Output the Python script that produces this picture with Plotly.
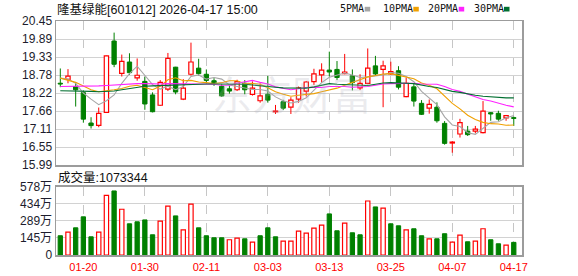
import plotly.graph_objects as go

# ---------------- data ----------------
dates = ["01-15", "01-16", "01-19", "01-20", "01-21", "01-22", "01-23", "01-26", "01-27", "01-28",
         "01-29", "01-30", "02-02", "02-03", "02-04", "02-05", "02-06", "02-09", "02-10", "02-11",
         "02-12", "02-13", "02-24", "02-25", "02-26", "02-27", "03-02", "03-03", "03-04", "03-05",
         "03-06", "03-09", "03-10", "03-11", "03-12", "03-13", "03-16", "03-17", "03-18", "03-19",
         "03-20", "03-23", "03-24", "03-25", "03-26", "03-27", "03-30", "03-31", "04-01", "04-02",
         "04-03", "04-07", "04-08", "04-09", "04-10", "04-13", "04-14", "04-15", "04-16", "04-17"]

opens = [18.52, 18.64, 18.42, 18.23, 17.29, 17.22, 17.62, 19.83, 18.83, 19.18,
         18.69, 18.58, 18.16, 17.84, 18.34, 19.02, 18.03, 18.80, 18.99, 18.80,
         18.60, 18.43, 18.35, 18.32, 18.52, 18.18, 17.98, 18.18, 17.64, 17.95,
         17.78, 18.03, 18.28, 18.57, 18.78, 18.93, 18.95, 18.82, 18.75, 18.38,
         18.52, 19.06, 18.95, 18.81, 18.91, 18.11, 18.41, 17.90, 17.75, 17.78,
         17.28, 16.67, 16.95, 17.04, 17.04, 16.99, 17.61, 17.59, 17.45, 17.45]
highs = [18.98, 18.96, 18.55, 18.30, 17.47, 17.77, 19.38, 20.09, 19.41, 19.45,
         19.29, 18.72, 18.24, 18.62, 19.46, 19.03, 18.65, 19.78, 19.28, 18.95,
         18.68, 18.50, 18.46, 18.63, 18.62, 18.58, 18.52, 18.75, 17.85, 18.01,
         18.09, 18.42, 18.59, 18.97, 19.14, 19.50, 19.21, 19.43, 18.95, 18.80,
         19.60, 19.37, 19.22, 19.19, 19.05, 18.70, 18.52, 18.00, 18.02, 17.93,
         17.35, 16.73, 17.42, 17.20, 17.20, 17.97, 17.63, 17.67, 17.54, 17.49]
lows = [18.40, 18.52, 17.80, 17.30, 17.12, 17.16, 17.61, 19.02, 18.73, 18.78,
        18.60, 17.70, 17.62, 17.82, 18.28, 18.18, 18.00, 18.76, 18.76, 18.53,
        18.44, 18.10, 18.20, 18.28, 18.18, 18.14, 17.92, 17.92, 17.57, 17.69,
        17.57, 17.92, 18.11, 18.47, 18.54, 18.73, 18.62, 18.80, 18.30, 18.31,
        18.49, 18.75, 17.78, 18.78, 18.33, 18.09, 17.80, 17.54, 17.58, 17.30,
        16.62, 16.37, 16.84, 16.89, 16.97, 16.97, 17.36, 17.36, 17.36, 17.20]
closes = [18.50, 18.74, 18.32, 17.41, 17.21, 17.59, 19.37, 19.11, 19.20, 18.85,
          18.77, 17.88, 17.64, 18.55, 19.29, 18.25, 18.37, 19.18, 18.82, 18.61,
          18.53, 18.13, 18.28, 18.57, 18.32, 18.37, 18.13, 18.00, 17.66, 17.75,
          18.00, 18.38, 18.56, 18.81, 18.93, 18.87, 18.70, 18.87, 18.54, 18.52,
          18.99, 18.81, 19.06, 18.88, 18.40, 18.52, 17.97, 17.56, 17.87, 17.36,
          16.66, 16.70, 17.30, 16.93, 17.10, 17.66, 17.57, 17.41, 17.52, 17.44]

# volume, in units of 万 (10k)
volumes = [163, 194, 230, 323, 154, 194, 505, 542, 387, 264,
           281, 297, 171, 286, 413, 331, 213, 430, 230, 163,
           146, 146, 129, 143, 137, 109, 163, 230, 154, 118,
           118, 202, 185, 227, 253, 348, 205, 269, 188, 171,
           457, 407, 396, 264, 247, 213, 222, 163, 137, 137,
           180, 109, 168, 112, 118, 222, 129, 95, 84, 107]

ma5 = [18.68, 18.65, 18.52, 18.22, 18.03, 17.86, 17.98, 18.16, 18.52, 18.82,
       19.05, 18.77, 18.48, 18.34, 18.43, 18.32, 18.42, 18.73, 18.78, 18.65,
       18.70, 18.65, 18.47, 18.42, 18.37, 18.33, 18.33, 18.28, 18.10, 17.98,
       17.91, 17.96, 18.07, 18.30, 18.54, 18.71, 18.77, 18.84, 18.78, 18.70,
       18.72, 18.75, 18.78, 18.85, 18.83, 18.73, 18.57, 18.27, 18.06, 17.86,
       17.48, 17.23, 17.18, 16.99, 16.94, 17.14, 17.31, 17.33, 17.45, 17.52]
ma10 = [18.68, 18.62, 18.55, 18.44, 18.32, 18.26, 18.28, 18.32, 18.36, 18.43,
        18.46, 18.38, 18.32, 18.43, 18.63, 18.69, 18.60, 18.61, 18.56, 18.54,
        18.51, 18.54, 18.60, 18.60, 18.51, 18.52, 18.49, 18.38, 18.26, 18.18,
        18.12, 18.15, 18.18, 18.20, 18.26, 18.31, 18.37, 18.46, 18.54, 18.62,
        18.72, 18.76, 18.81, 18.82, 18.77, 18.73, 18.66, 18.53, 18.46, 18.35,
        18.11, 17.90, 17.73, 17.53, 17.40, 17.31, 17.27, 17.26, 17.22, 17.23]
ma20 = [18.42, 18.42, 18.43, 18.43, 18.43, 18.44, 18.45, 18.47, 18.49, 18.50,
        18.51, 18.51, 18.50, 18.50, 18.51, 18.51, 18.50, 18.50, 18.50, 18.49,
        18.49, 18.46, 18.46, 18.52, 18.57, 18.61, 18.55, 18.50, 18.41, 18.36,
        18.32, 18.35, 18.39, 18.40, 18.39, 18.42, 18.43, 18.42, 18.40, 18.40,
        18.42, 18.46, 18.50, 18.51, 18.52, 18.52, 18.52, 18.50, 18.50, 18.49,
        18.42, 18.33, 18.27, 18.18, 18.09, 18.02, 17.97, 17.90, 17.84, 17.79]
ma30 = [18.29, 18.29, 18.28, 18.28, 18.27, 18.26, 18.26, 18.28, 18.32, 18.36,
        18.40, 18.43, 18.44, 18.45, 18.47, 18.48, 18.49, 18.50, 18.50, 18.50,
        18.50, 18.50, 18.50, 18.49, 18.49, 18.47, 18.44, 18.42, 18.40, 18.38,
        18.37, 18.36, 18.37, 18.41, 18.47, 18.51, 18.49, 18.48, 18.45, 18.45,
        18.45, 18.49, 18.53, 18.54, 18.52, 18.52, 18.51, 18.46, 18.42, 18.39,
        18.32, 18.27, 18.24, 18.19, 18.15, 18.12, 18.10, 18.09, 18.07, 18.07]

tick_dates = ["01-20", "01-30", "02-11", "03-03", "03-13", "03-25", "04-07", "04-17"]
price_ticks = [15.99, 16.5475, 17.105, 17.6625, 18.22, 18.7775, 19.335, 19.8925, 20.45]
price_labels = ["15.99", "16.55", "17.11", "17.66", "18.22", "18.78", "19.33", "19.89", "20.45"]
vol_ticks = [0, 144.5, 289, 433.5, 578]
vol_labels = ["0", "145万", "289万", "434万", "578万"]
ma_names = ["5PMA", "10PMA", "20PMA", "30PMA"]
ma_colors = ["#a6a6a6", "#f0a000", "#ff22ff", "#006f30"]

title_text = "隆基绿能[601012] 2026-04-17 15:00"
vol_title = "成交量:1073344"
watermark = "东方财富"

# ---------------- layout helpers ----------------
W, H = 578, 276
ML, MR, MT, MB = 56, 56, 21, 21


def fx(p):
    return (p - ML) / (W - ML - MR)


def fy(p):
    return (H - MB - p) / (H - MT - MB)


RED = "#ff0000"
GREEN = "#008000"
BODY_W = 0.56
n = len(dates)
up = [closes[i] >= opens[i] for i in range(n)]
vol_up = [(closes[i] >= closes[i - 1]) if i > 0 else up[0] for i in range(n)]

fig = go.Figure()


def wick_xy(idx, split):
    xs, ys = [], []
    for i in idx:
        top = max(opens[i], closes[i])
        bot = min(opens[i], closes[i])
        if split:
            xs += [dates[i], dates[i], None, dates[i], dates[i], None]
            ys += [highs[i], top, None, bot, lows[i], None]
        else:
            xs += [dates[i], dates[i], None]
            ys += [highs[i], lows[i], None]
    return xs, ys


up_idx = [i for i in range(n) if up[i]]
dn_idx = [i for i in range(n) if not up[i]]

wx, wy = wick_xy(up_idx, True)
fig.add_trace(go.Scatter(x=wx, y=wy, mode="lines", line=dict(color=RED, width=1),
                         xaxis="x", yaxis="y", hoverinfo="skip"))
wx, wy = wick_xy(dn_idx, False)
fig.add_trace(go.Scatter(x=wx, y=wy, mode="lines", line=dict(color=GREEN, width=1),
                         xaxis="x", yaxis="y", hoverinfo="skip"))

MIN_BODY = 0.025


def body_args(idx):
    xs = [dates[i] for i in idx]
    hs = [max(abs(closes[i] - opens[i]), MIN_BODY) for i in idx]
    bs = [(opens[i] + closes[i]) / 2 - h / 2 for i, h in zip(idx, hs)]
    return xs, hs, bs


xs, hs, bs = body_args(up_idx)
fig.add_trace(go.Bar(x=xs, y=hs, base=bs, width=BODY_W, xaxis="x", yaxis="y",
                     marker=dict(color="white", line=dict(color=RED, width=1.2)),
                     hoverinfo="skip"))
xs, hs, bs = body_args(dn_idx)
fig.add_trace(go.Bar(x=xs, y=hs, base=bs, width=BODY_W, xaxis="x", yaxis="y",
                     marker=dict(color=GREEN, line=dict(color=GREEN, width=1)),
                     hoverinfo="skip"))

# moving averages
for vals, col in zip([ma5, ma10, ma20, ma30], ma_colors):
    fig.add_trace(go.Scatter(x=dates, y=vals, mode="lines", line=dict(color=col, width=1.1),
                             xaxis="x", yaxis="y", hoverinfo="skip"))

# volume bars
vu = [i for i in range(n) if vol_up[i]]
vd = [i for i in range(n) if not vol_up[i]]
fig.add_trace(go.Bar(x=[dates[i] for i in vu], y=[volumes[i] for i in vu], width=BODY_W,
                     xaxis="x2", yaxis="y2",
                     marker=dict(color="white", line=dict(color=RED, width=1.2)), hoverinfo="skip"))
fig.add_trace(go.Bar(x=[dates[i] for i in vd], y=[volumes[i] for i in vd], width=BODY_W,
                     xaxis="x2", yaxis="y2",
                     marker=dict(color=GREEN, line=dict(color=GREEN, width=1)), hoverinfo="skip"))

BORDER = "#9c9c9c"
GRID = "#d2d2d2"
VGRID = "#c6c6c6"
XR = [-0.56, 60.07]
TICKFONT = dict(family="Liberation Sans, Arial, Noto Sans CJK SC", size=12, color="#1c1c2c")

axis_common = dict(showline=True, mirror=True, linecolor=BORDER, linewidth=1.5,
                   zeroline=False, fixedrange=True, automargin=False)

fig.update_layout(
    width=W, height=H, autosize=False,
    margin=dict(l=ML, r=MR, t=MT, b=MB, pad=0, autoexpand=False),
    paper_bgcolor="white", plot_bgcolor="white",
    showlegend=False, barmode="overlay", hovermode=False,
    xaxis=dict(type="category", domain=[0, 1], anchor="y", range=XR,
               categoryorder="array", categoryarray=dates,
               tickvals=tick_dates, showticklabels=False, ticks="",
               showgrid=True, gridcolor=VGRID, griddash="dash", gridwidth=1, **axis_common),
    xaxis2=dict(type="category", domain=[0, 1], anchor="y2", range=XR, matches="x",
                categoryorder="array", categoryarray=dates,
                tickvals=tick_dates, ticktext=tick_dates, showticklabels=True,
                ticks="outside", ticklen=1, tickcolor="rgba(0,0,0,0)",
                tickfont=dict(family="Liberation Sans, Arial", size=11, color=RED),
                showgrid=True, gridcolor=VGRID, griddash="dash", gridwidth=1, **axis_common),
    yaxis=dict(domain=[fy(165), fy(21)], anchor="x", range=[15.99, 20.45],
               tickvals=price_ticks, ticktext=price_labels, ticks="", tickfont=TICKFONT,
               showgrid=True, gridcolor=GRID, gridwidth=1, **axis_common),
    yaxis2=dict(domain=[0, fy(186.7)], anchor="x2", range=[0, 578],
                tickvals=vol_ticks, ticktext=vol_labels, ticks="", tickfont=TICKFONT,
                showgrid=True, gridcolor=GRID, gridwidth=1, **axis_common),
)

ann = []
ann.append(dict(text=watermark, xref="paper", yref="paper", x=fx(292), y=fy(93),
                xanchor="center", yanchor="middle", showarrow=False,
                font=dict(family="Noto Sans CJK SC", size=40, color="rgba(175,175,190,0.25)")))
ann.append(dict(text=title_text, xref="paper", yref="paper", x=fx(55), y=fy(10),
                xanchor="left", yanchor="middle", showarrow=False,
                font=dict(family="Liberation Sans, Noto Sans CJK SC", size=12.5, color="#111")))
ann.append(dict(text=vol_title, xref="paper", yref="paper", x=fx(56), y=fy(177.5),
                xanchor="left", yanchor="middle", showarrow=False,
                font=dict(family="Liberation Sans, Noto Sans CJK SC", size=12.5, color="#111")))

legend_label_x = [338.3, 380.7, 426.0, 471.7]
legend_sq_x = [364.7, 413.3, 458.7, 504.0]
shapes = []
for name, col, lx, sx in zip(ma_names, ma_colors, legend_label_x, legend_sq_x):
    ann.append(dict(text=name, xref="paper", yref="paper", x=fx(lx), y=fy(9),
                    xanchor="left", yanchor="middle", showarrow=False,
                    font=dict(family="DejaVu Sans Mono", size=10, color="#111")))
    shapes.append(dict(type="rect", xref="paper", yref="paper",
                       x0=fx(sx), x1=fx(sx + 5.5), y0=fy(11.5), y1=fy(6.8),
                       fillcolor=col, line=dict(width=0)))

fig.update_layout(annotations=ann, shapes=shapes)

fig.write_html("out.html", config={"displayModeBar": False, "staticPlot": True})
